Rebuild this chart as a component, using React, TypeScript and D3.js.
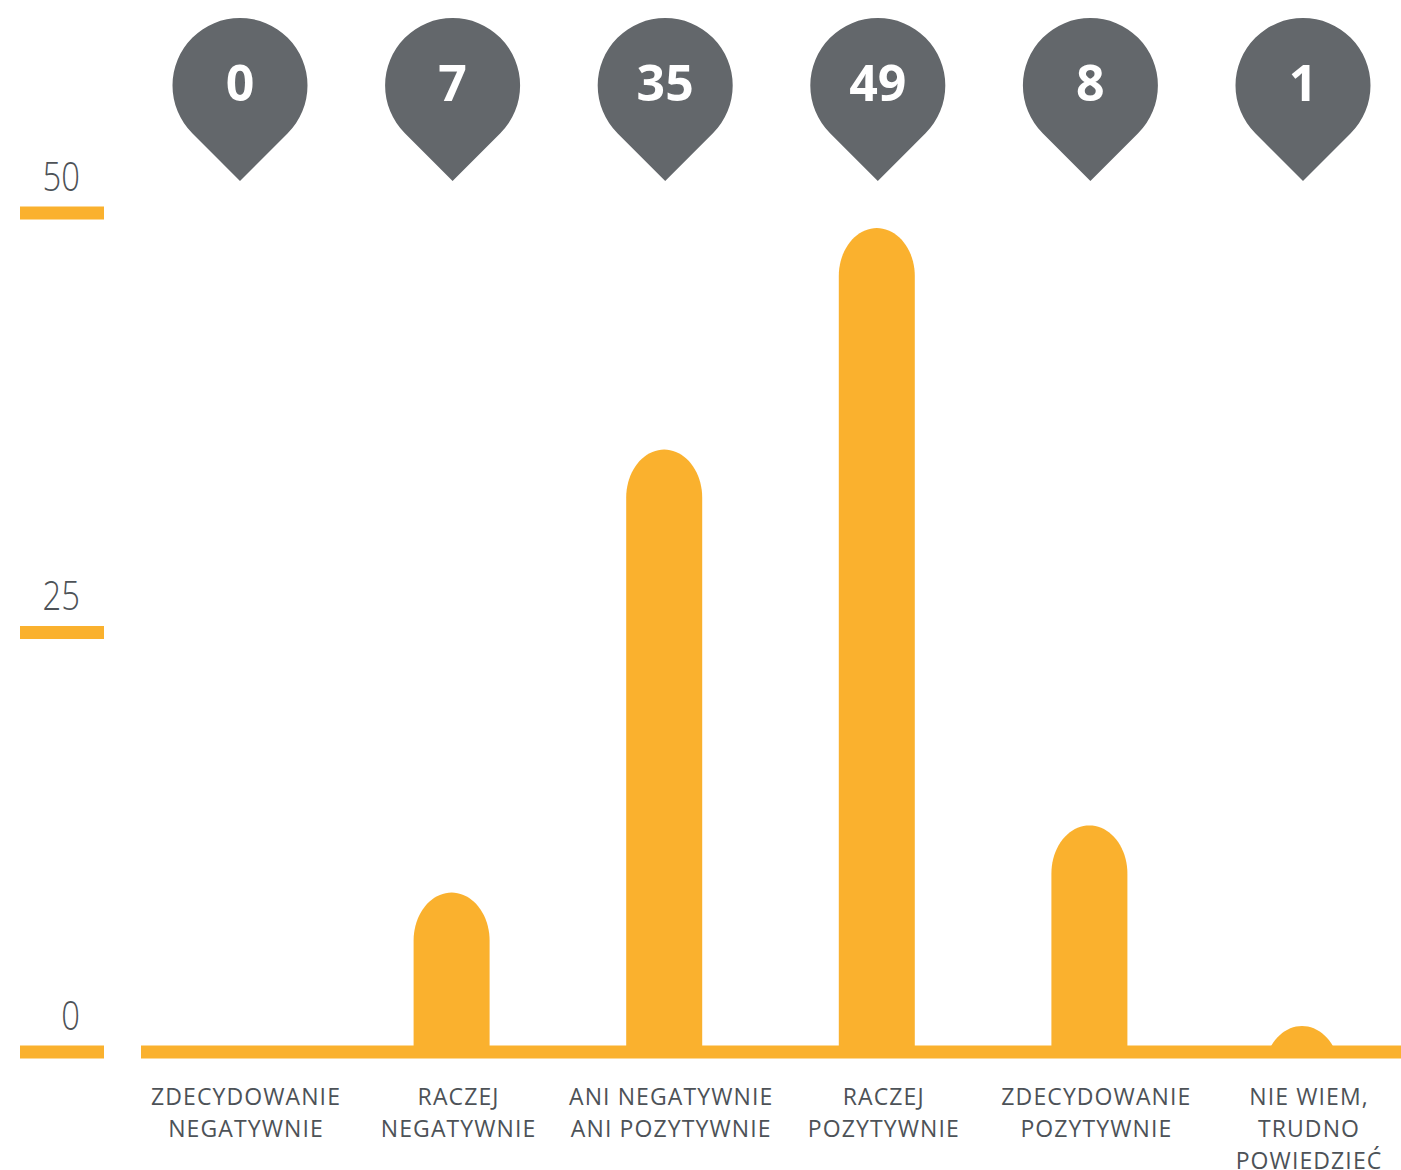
import React from "react";
import * as d3 from "d3";

// categories (each entry = lines of the label under the axis)
const categories = [
  ["ZDECYDOWANIE", "NEGATYWNIE"],
  ["RACZEJ", "NEGATYWNIE"],
  ["ANI NEGATYWNIE", "ANI POZYTYWNIE"],
  ["RACZEJ", "POZYTYWNIE"],
  ["ZDECYDOWANIE", "POZYTYWNIE"],
  ["NIE WIEM,", "TRUDNO", "POWIEDZIEĆ"],
];
// numbers printed in the pins
const pinValues = [0, 7, 35, 49, 8, 1];
// bar heights as drawn, read against the 0/25/50 scale
const barValues = [0, 9.5, 35.9, 49.1, 13.5, 1.55];
const yTicks = [0, 25, 50];

const ORANGE = "#fab12e";
const PIN = "#63676b";
const TEXT = "#4d5257";
const FONT = "'Open Sans', 'Noto Sans', sans-serif";

const width = 1401;
const height = 1170;

export default function App() {
  const x = d3
    .scalePoint<number>()
    .domain(d3.range(categories.length))
    .range([240, 1303]);

  const y = d3.scaleLinear().domain([0, 50]).range([1052, 213]);

  const barW = 76;
  const rx = barW / 2;
  const ry = 48;
  const base = y(0);

  const barPath = (v: number, cx: number) => {
    const top = y(v);
    const cy = top + ry;
    const bottom = Math.max(cy, base);
    const p = d3.path();
    p.moveTo(cx - rx, bottom);
    p.lineTo(cx - rx, cy);
    // elliptical cap
    const steps = 40;
    for (let i = 0; i <= steps; i++) {
      const a = Math.PI + (Math.PI * i) / steps;
      p.lineTo(cx + rx * Math.cos(a), cy + ry * Math.sin(a));
    }
    p.lineTo(cx + rx, bottom);
    p.closePath();
    return p.toString();
  };

  const pinR = 67.5;
  const pinCy = 85.5;
  const pinPath = (cx: number) => {
    const tip = pinCy + pinR * Math.SQRT2;
    const d = pinR / Math.SQRT2;
    const p = d3.path();
    p.moveTo(cx, tip);
    p.lineTo(cx - d, pinCy + d);
    p.arc(cx, pinCy, pinR, (3 * Math.PI) / 4, Math.PI / 4, false);
    p.lineTo(cx, tip);
    p.closePath();
    return p.toString();
  };

  return (
    <svg
      width={width}
      height={height}
      style={{ position: "absolute", left: 0, top: 0, background: "#fff" }}
      fontFamily={FONT}
    >
      <defs>
        <clipPath id="above-base">
          <rect x={0} y={0} width={width} height={base} />
        </clipPath>
      </defs>

      {/* y ticks */}
      {yTicks.map((t) => (
        <g key={t}>
          <rect x={20} y={y(t) - 6.5} width={84} height={13} fill={ORANGE} />
          <text
            transform={`translate(80,${y(t) - 22.5}) scale(0.82,1)`}
            textAnchor="end"
            fontSize={40}
            fontWeight={300}
            fill={TEXT}
          >
            {t}
          </text>
        </g>
      ))}

      {/* bars */}
      <g clipPath="url(#above-base)">
        {barValues.map((v, i) =>
          v > 0 ? (
            <path key={i} d={barPath(v, x(i)! - 1)} fill={ORANGE} />
          ) : null
        )}
      </g>

      {/* baseline */}
      <rect x={141} y={base - 6.5} width={width - 141} height={13} fill={ORANGE} />

      {/* pins */}
      {pinValues.map((v, i) => (
        <g key={i}>
          <path d={pinPath(x(i)!)} fill={PIN} />
          <text
            x={x(i)!}
            y={101}
            textAnchor="middle"
            fontSize={50}
            fontWeight={700}
            fill="#fff"
          >
            {v}
          </text>
        </g>
      ))}

      {/* category labels */}
      {categories.map((lines, i) => (
        <text
          key={i}
          x={x(i)! + 6}
          y={1105}
          textAnchor="middle"
          fontSize={23}
          letterSpacing={1.1}
          fill={TEXT}
        >
          {lines.map((l, j) => (
            <tspan key={j} x={x(i)! + 6} dy={j === 0 ? 0 : 32}>
              {l}
            </tspan>
          ))}
        </text>
      ))}
    </svg>
  );
}
